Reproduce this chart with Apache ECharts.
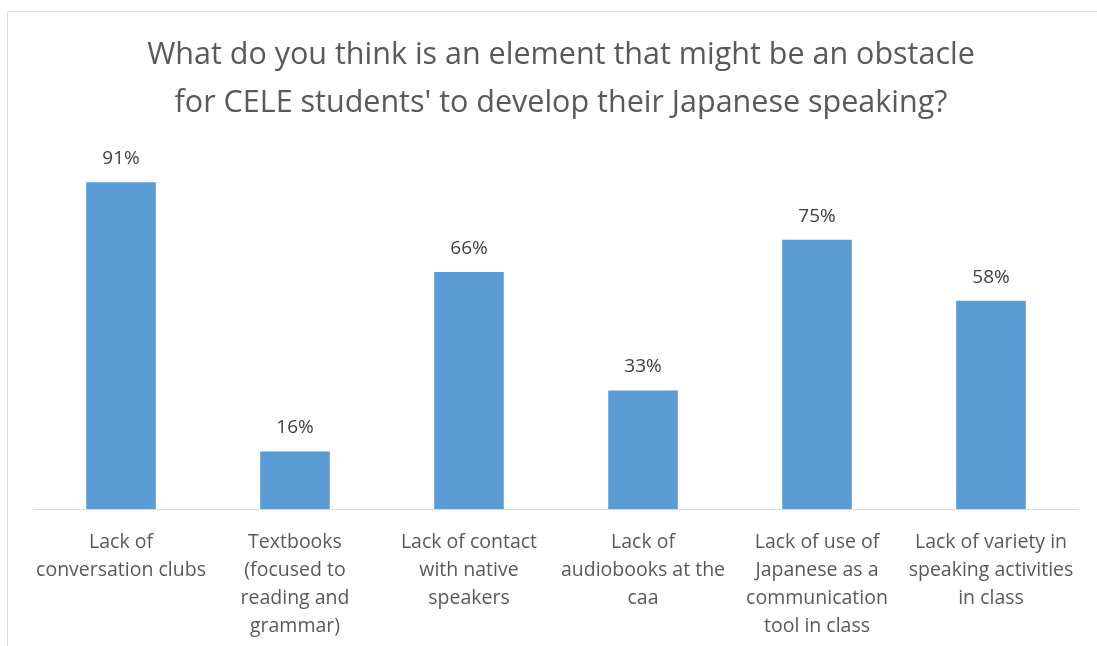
<!DOCTYPE html>
<html>
<head>
<meta charset="utf-8">
<script src="https://cdn.jsdelivr.net/npm/echarts@6/dist/echarts.min.js"></script>
<style>
  html, body { margin: 0; padding: 0; background: #ffffff; }
  #chart { width: 1097px; height: 646px; }
</style>
</head>
<body>
<div id="chart"></div>
<script>
// Survey answers: obstacles to developing Japanese speaking
const categories = [
  'Lack of\nconversation clubs',
  'Textbooks\n(focused to\nreading and\ngrammar)',
  'Lack of contact\nwith native\nspeakers',
  'Lack of\naudiobooks at the\ncaa',
  'Lack of use of\nJapanese as a\ncommunication\ntool in class',
  'Lack of variety in\nspeaking activities\nin class'
];
const percentages = [91, 16, 66, 33, 75, 58];
const titleLines = [
  'What do you think is an element that might be an obstacle',
  "for CELE students' to develop their Japanese speaking?"
];

const FONT = '"Open Sans", Lato, sans-serif';
const chart = echarts.init(document.getElementById('chart'), null, { renderer: 'canvas' });

chart.setOption({
  animation: false,
  backgroundColor: '#ffffff',
  graphic: [{
    type: 'rect',
    shape: { x: 7.5, y: 11.5, width: 1200, height: 700 },
    style: { fill: 'none', stroke: '#d9d9d9', lineWidth: 1 },
    silent: true
  }],
  title: {
    text: titleLines.join('\n'),
    left: 556,
    top: 26,
    textAlign: 'center',
    textStyle: {
      fontFamily: FONT,
      fontSize: 30.5,
      fontWeight: 'normal',
      color: '#595959',
      lineHeight: 48
    }
  },
  grid: { left: 34, right: 19, top: 150, bottom: 137, containLabel: false },
  xAxis: {
    type: 'category',
    data: categories,
    axisLine: { lineStyle: { color: '#d9d9d9', width: 1 } },
    axisTick: { show: false },
    axisLabel: {
      interval: 0,
      margin: 19,
      fontFamily: FONT,
      fontSize: 19.5,
      color: '#595959',
      lineHeight: 28
    }
  },
  yAxis: {
    type: 'value',
    min: 0,
    max: 100,
    show: false,
    splitLine: { show: false }
  },
  series: [{
    type: 'bar',
    data: percentages,
    barWidth: '40%',
    itemStyle: { color: '#5b9bd5' },
    label: {
      show: true,
      position: 'top',
      distance: 14,
      formatter: p => p.value + '%',
      fontFamily: FONT,
      fontSize: 19,
      color: '#404040'
    }
  }]
});
</script>
</body>
</html>
